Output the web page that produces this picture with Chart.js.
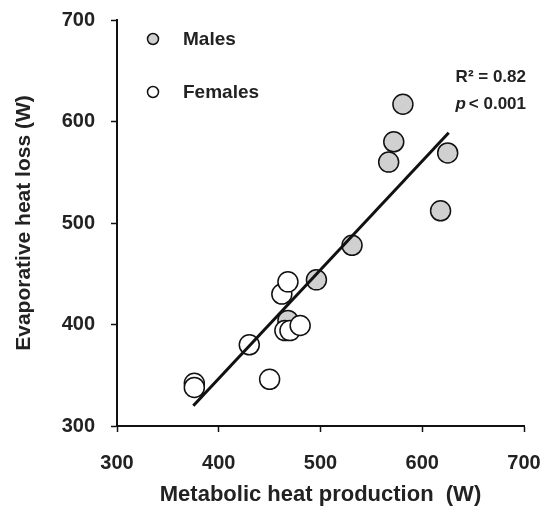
<!DOCTYPE html>
<html>
<head>
<meta charset="utf-8">
<script src="https://cdn.jsdelivr.net/npm/chart.js@4"></script>
<style>
  html, body { margin: 0; padding: 0; background: #fff; }
  #wrap { width: 549px; height: 512px; position: relative; }
</style>
</head>
<body>
<div id="wrap"><canvas id="chart" width="549" height="512"></canvas></div>
<script>
// data
const maleX = [581, 572, 567, 625, 618, 531, 496, 468];
const maleY = [617, 580, 560, 569, 512, 478, 444, 404];
const femaleX = [376, 376, 430, 450, 462, 468, 465, 470, 480];
const femaleY = [342, 338, 380, 346, 430, 442, 394, 394, 399];
const fitX = [375, 626];
const fitY = [320, 589];
const tickValues = [300, 400, 500, 600, 700];

const FONT = '"Liberation Sans", Arial, sans-serif';
const toPoints = (xs, ys) => xs.map((x, i) => ({ x: x, y: ys[i] }));

// legend + stats text, drawn on top
const annotations = {
  id: 'annotations',
  afterDraw(chart) {
    const c = chart.ctx;
    c.save();
    c.lineWidth = 1.5;
    c.strokeStyle = '#111';
    c.beginPath();
    c.arc(153, 39, 5.5, 0, Math.PI * 2);
    c.fillStyle = '#d0d0d0';
    c.fill();
    c.stroke();
    c.beginPath();
    c.arc(153, 92, 5.5, 0, Math.PI * 2);
    c.fillStyle = '#fff';
    c.fill();
    c.stroke();

    c.fillStyle = '#222';
    c.textBaseline = 'middle';
    c.textAlign = 'left';
    c.font = 'bold 19px ' + FONT;
    c.fillText('Males', 183, 40);
    c.fillText('Females', 183, 93);

    c.textAlign = 'right';
    c.font = 'bold 17px ' + FONT;
    c.fillText('R² = 0.82', 526, 77);
    c.fillText('< 0.001', 526, 104);
    const w = c.measureText('< 0.001').width;
    c.font = 'italic bold 17px ' + FONT;
    c.fillText('p', 526 - w - 3, 104);
    c.restore();
  }
};

new Chart(document.getElementById('chart'), {
  type: 'scatter',
  data: {
    datasets: [
      {
        type: 'line',
        label: 'Fit',
        data: toPoints(fitX, fitY),
        borderColor: '#111',
        borderWidth: 3,
        pointRadius: 0,
        fill: false,
        order: 0
      },
      {
        label: 'Females',
        data: toPoints(femaleX, femaleY),
        backgroundColor: '#fff',
        borderColor: '#111',
        borderWidth: 1.5,
        pointRadius: 10,
        order: 1
      },
      {
        label: 'Males',
        data: toPoints(maleX, maleY),
        backgroundColor: '#d0d0d0',
        borderColor: '#111',
        borderWidth: 1.5,
        pointRadius: 10,
        order: 2
      }
    ]
  },
  options: {
    responsive: false,
    animation: false,
    layout: { padding: { top: 20, right: 25, bottom: 0, left: 0 } },
    plugins: {
      legend: { display: false },
      tooltip: { enabled: false }
    },
    scales: {
      x: {
        type: 'linear',
        min: 300,
        max: 700,
        afterBuildTicks: s => { s.ticks = tickValues.map(v => ({ value: v })); },
        afterFit: s => { s.height = 86; s.paddingLeft = 0; s.paddingRight = 0; },
        border: { color: '#111', width: 2 },
        grid: { drawOnChartArea: false, drawTicks: true, tickLength: 6, tickColor: '#111', tickWidth: 1.5 },
        ticks: { color: '#222', padding: 19, font: { family: FONT, size: 20, weight: 'bold' } },
        title: {
          display: true,
          text: 'Metabolic heat production  (W)',
          color: '#222',
          padding: { top: 0, bottom: 4 },
          font: { family: FONT, size: 22, weight: 'bold' }
        }
      },
      y: {
        type: 'linear',
        min: 300,
        max: 700,
        afterBuildTicks: s => { s.ticks = tickValues.map(v => ({ value: v })); },
        afterFit: s => { s.width = 117; s.paddingTop = 0; s.paddingBottom = 0; },
        border: { color: '#111', width: 2 },
        grid: { drawOnChartArea: false, drawTicks: true, tickLength: 6, tickColor: '#111', tickWidth: 1.5 },
        ticks: { color: '#222', padding: 16, font: { family: FONT, size: 20, weight: 'bold' } },
        title: {
          display: true,
          text: 'Evaporative heat loss (W)',
          color: '#222',
          padding: { top: 12, bottom: 0 },
          font: { family: FONT, size: 21, weight: 'bold' }
        }
      }
    }
  },
  plugins: [annotations]
});
</script>
</body>
</html>
